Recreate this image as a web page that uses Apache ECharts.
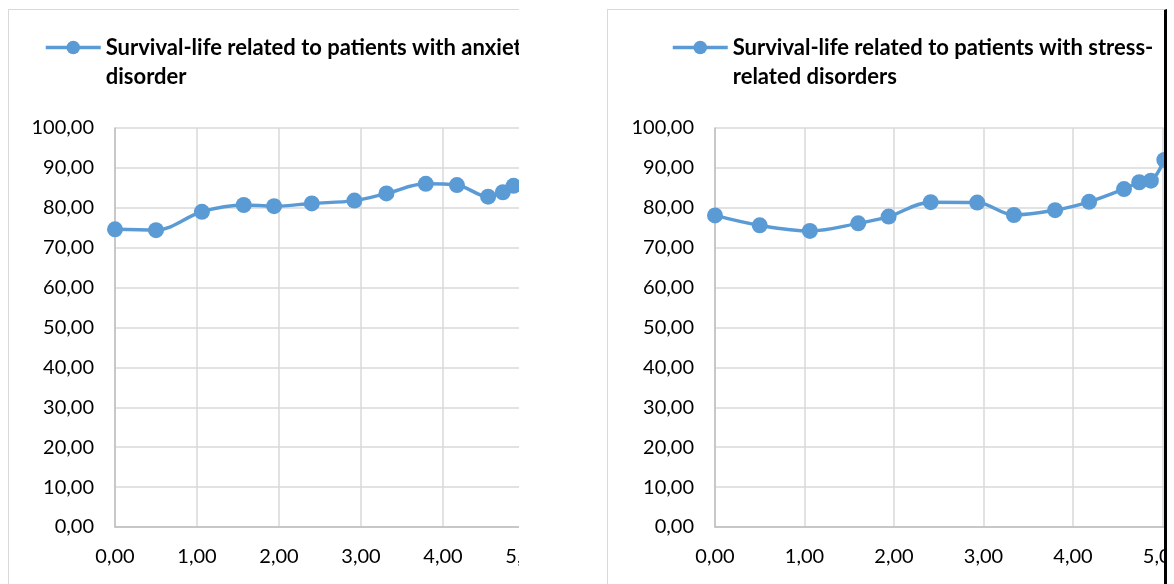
<!DOCTYPE html>
<html>
<head>
<meta charset="utf-8">
<script src="https://cdn.jsdelivr.net/npm/echarts@6/dist/echarts.min.js"></script>
<style>
  html, body { margin: 0; padding: 0; background: #ffffff; }
  body { width: 1174px; height: 584px; position: relative; overflow: hidden; }
  .panel {
    position: absolute;
    top: 9px;
    height: 600px;
    box-sizing: border-box;
    border-left: 1px solid #d9d9d9;
    border-top: 1px solid #d9d9d9;
    overflow: hidden;
    background: #ffffff;
  }
  #panelA { left: 8px; width: 511px; }
  #panelB { left: 607px; width: 560px; border-right: 3px solid #000000; }
  .chart { position: absolute; left: 0; top: 0; width: 720px; height: 574px; }
</style>
</head>
<body>
<div class="panel" id="panelA"><div class="chart" id="chartA"></div></div>
<div class="panel" id="panelB"><div class="chart" id="chartB"></div></div>
<script>
// Survival-life, anxiety disorder
const anxietyName = 'Survival-life related to patients with anxiety\ndisorder';
const anxietyX = [0, 0.50, 1.06, 1.57, 1.94, 2.40, 2.92, 3.31, 3.79, 4.17, 4.55, 4.73, 4.86];
const anxietyY = [74.6, 74.4, 79.0, 80.7, 80.4, 81.1, 81.8, 83.6, 86.0, 85.7, 82.8, 83.9, 85.5];

// Survival-life, stress-related disorders
const stressName = 'Survival-life related to patients with stress-\nrelated disorders';
const stressX = [0, 0.50, 1.06, 1.60, 1.94, 2.41, 2.93, 3.34, 3.80, 4.18, 4.57, 4.74, 4.87, 5.02];
const stressY = [78.1, 75.6, 74.2, 76.1, 77.8, 81.4, 81.3, 78.2, 79.4, 81.5, 84.7, 86.4, 86.8, 92.0];

// Axis ranges
const xTicks = { min: 0, max: 6, interval: 1 };
const yTicks = { min: 0, max: 100, interval: 10 };

const BLUE = '#5b9bd5';
const FONT = 'Lato, "Open Sans", sans-serif';

function commaFmt(v) {
  return v.toFixed(2).replace('.', ',');
}

function buildOption(name, xs, ys, layout) {
  const data = xs.map((x, i) => [x, ys[i]]);
  return {
    animation: false,
    backgroundColor: '#ffffff',
    legend: {
      left: layout.legendLeft,
      top: layout.legendTop,
      itemWidth: layout.legendIconWidth,
      itemHeight: 17,
      itemGap: 0,
      padding: 0,
      lineStyle: { width: 3.5 },
      // blank first line keeps the icon level with the first text line
      formatter: n => '\n' + n,
      textStyle: {
        fontFamily: FONT,
        fontSize: 22,
        fontWeight: 'bold',
        color: '#000000',
        lineHeight: 29
      },
      data: [name]
    },
    grid: {
      left: layout.gridLeft,
      top: 118,
      width: layout.unit * (xTicks.max - xTicks.min),
      height: 399,
      outerBoundsMode: 'none'
    },
    xAxis: {
      type: 'value',
      min: xTicks.min,
      max: xTicks.max,
      interval: xTicks.interval,
      axisLine: { show: true, lineStyle: { color: '#bfbfbf', width: 1.5 } },
      axisTick: { show: false },
      splitLine: { show: true, lineStyle: { color: '#d9d9d9', width: 1.5 } },
      axisLabel: {
        formatter: commaFmt,
        margin: 20,
        fontFamily: FONT,
        fontSize: 20,
        color: '#000000'
      }
    },
    yAxis: {
      type: 'value',
      min: yTicks.min,
      max: yTicks.max,
      interval: yTicks.interval,
      axisLine: { show: true, lineStyle: { color: '#bfbfbf', width: 1.5 } },
      axisTick: { show: false },
      splitLine: { show: true, lineStyle: { color: '#d9d9d9', width: 1.5 } },
      axisLabel: {
        formatter: commaFmt,
        margin: 21,
        fontFamily: FONT,
        fontSize: 20,
        color: '#000000'
      }
    },
    series: [{
      name: name,
      type: 'line',
      data: data,
      smooth: 0.35,
      symbol: 'circle',
      symbolSize: 16,
      showAllSymbol: true,
      itemStyle: { color: BLUE, borderWidth: 0 },
      lineStyle: { color: BLUE, width: 3.5 }
    }]
  };
}

const chartA = echarts.init(document.getElementById('chartA'), null, { renderer: 'canvas' });
chartA.setOption(buildOption(anxietyName, anxietyX, anxietyY, {
  gridLeft: 106, unit: 82, legendLeft: 35, legendTop: -6, legendIconWidth: 55
}));

const chartB = echarts.init(document.getElementById('chartB'), null, { renderer: 'canvas' });
chartB.setOption(buildOption(stressName, stressX, stressY, {
  gridLeft: 107, unit: 89.5, legendLeft: 63, legendTop: -6, legendIconWidth: 55
}));
</script>
</body>
</html>
